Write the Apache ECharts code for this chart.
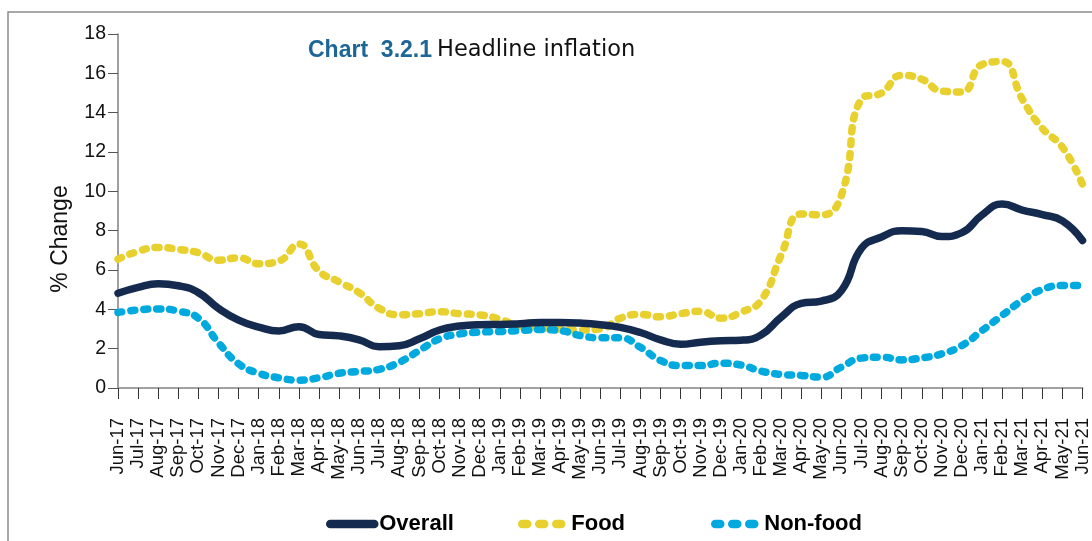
<!DOCTYPE html>
<html>
<head>
<meta charset="utf-8">
<script src="https://cdn.jsdelivr.net/npm/echarts@6/dist/echarts.min.js"></script>
<style>
html,body{margin:0;padding:0;background:#fff;}
#chart{width:1092px;height:541px;}
</style>
</head>
<body>
<div id="chart"></div>
<script>
const categories = ['Jun-17','Jul-17','Aug-17','Sep-17','Oct-17','Nov-17','Dec-17','Jan-18','Feb-18','Mar-18','Apr-18','May-18',
  'Jun-18','Jul-18','Aug-18','Sep-18','Oct-18','Nov-18','Dec-18','Jan-19','Feb-19','Mar-19','Apr-19','May-19',
  'Jun-19','Jul-19','Aug-19','Sep-19','Oct-19','Nov-19','Dec-19','Jan-20','Feb-20','Mar-20','Apr-20','May-20',
  'Jun-20','Jul-20','Aug-20','Sep-20','Oct-20','Nov-20','Dec-20','Jan-21','Feb-21','Mar-21','Apr-21','May-21','Jun-21'];

const overall = [4.82,5.12,5.3,5.2,4.85,4.05,3.45,3.1,2.9,3.12,2.72,2.65,
  2.45,2.1,2.15,2.5,2.95,3.15,3.22,3.23,3.27,3.33,3.33,3.3,
  3.22,3.08,2.82,2.45,2.22,2.33,2.4,2.43,2.7,3.6,4.3,4.42,
  4.95,7.1,7.68,8.0,7.96,7.7,7.9,8.8,9.35,9.05,8.82,8.5,7.5];

const food = [6.55,6.95,7.15,7.05,6.88,6.5,6.62,6.32,6.45,7.32,5.95,5.4,
  4.85,4.05,3.72,3.78,3.88,3.78,3.72,3.5,3.15,3.08,3.0,2.95,
  3.0,3.55,3.74,3.62,3.78,3.9,3.55,3.85,4.45,6.75,8.85,8.8,
  9.8,14.7,15.0,15.9,15.7,15.1,15.05,16.45,16.6,14.7,13.2,12.25,10.35];

const nonFood = [3.84,3.97,4.02,3.91,3.55,2.3,1.23,0.75,0.52,0.4,0.52,0.75,
  0.84,0.95,1.31,1.91,2.5,2.75,2.84,2.87,2.92,2.97,2.92,2.67,
  2.55,2.55,2.07,1.4,1.14,1.14,1.26,1.17,0.86,0.69,0.64,0.55,
  1.06,1.52,1.57,1.43,1.53,1.74,2.16,2.92,3.69,4.45,5.01,5.21,5.21];

const yTicks = {min: 0, max: 18, interval: 2};

const NAVY = '#142a4f', YELLOW = '#e8d02e', CYAN = '#00a9de';
const FONT = '"Liberation Sans", Arial, Helvetica, sans-serif';

const chart = echarts.init(document.getElementById('chart'), null, {renderer: 'canvas'});

function legendFor(name, left, ls) {
  return {
    data: [name], left: left, top: 508, orient: 'horizontal',
    itemWidth: 44, itemHeight: 8, itemGap: 10, selectedMode: false,
    textStyle: {fontFamily: FONT, fontSize: 22, fontWeight: 'bold', color: '#000'},
    lineStyle: ls
  };
}

chart.setOption({
  animation: false,
  backgroundColor: '#fff',
  title: {
    text: '{a|Chart  3.2.1} {b|Headline inflation}',
    left: 308, top: 39, padding: 0,
    textStyle: {
      fontWeight: 'normal',
      rich: {
        a: {fontFamily: FONT, fontSize: 23, fontWeight: 'bold', color: '#1d6797'},
        b: {fontFamily: '"DejaVu Sans", sans-serif', fontSize: 22.5, fontWeight: 'normal', color: '#111'}
      }
    }
  },
  legend: [
    legendFor('Overall', 321, {width: 8.5, type: 'solid', cap: 'round', color: NAVY}),
    legendFor('Food', 513, {width: 8.5, type: [5, 12], cap: 'round', color: YELLOW}),
    legendFor('Non-food', 706, {width: 8.5, type: [5, 12], cap: 'round', color: CYAN})
  ],
  grid: {left: 118, top: 34, right: 1, bottom: 153, containLabel: false},
  xAxis: {
    type: 'category', data: categories, boundaryGap: false,
    axisLine: {show: true, lineStyle: {color: '#a0a0a0', width: 2}},
    axisTick: {show: true, length: 11, interval: 0, lineStyle: {color: '#333', width: 1}},
    axisLabel: {interval: 0, rotate: 90, margin: 30, fontFamily: FONT, fontSize: 18.5, color: '#111'},
    splitLine: {show: false}
  },
  yAxis: {
    type: 'value', min: yTicks.min, max: yTicks.max, interval: yTicks.interval,
    axisLine: {show: true, lineStyle: {color: '#808080', width: 1.5}},
    axisTick: {show: true, length: 10, lineStyle: {color: '#555', width: 1}},
    axisLabel: {margin: 12, fontFamily: FONT, fontSize: 19.5, color: '#111'},
    splitLine: {show: false}
  },
  graphic: [
    {type: 'rect', shape: {x: 8, y: 12, width: 1300, height: 800},
     style: {fill: 'none', stroke: '#8c8c8c', lineWidth: 1.5}, z: 0, silent: true},
    {type: 'text', x: 61, y: 239, rotation: Math.PI / 2,
     style: {text: '% Change', fontFamily: FONT, fontSize: 23, fill: '#111', textAlign: 'center', textVerticalAlign: 'middle'}}
  ],
  series: [
    {name: 'Food', type: 'line', data: food, smooth: 0.5, symbol: 'none', z: 2,
     lineStyle: {color: YELLOW, width: 7.5, type: [4, 9], cap: 'round'}, itemStyle: {color: YELLOW}},
    {name: 'Non-food', type: 'line', data: nonFood, smooth: 0.5, symbol: 'none', z: 3,
     lineStyle: {color: CYAN, width: 7.5, type: [4, 9], cap: 'round'}, itemStyle: {color: CYAN}},
    {name: 'Overall', type: 'line', data: overall, smooth: 0.5, symbol: 'none', z: 4,
     lineStyle: {color: NAVY, width: 7.5, cap: 'round'}, itemStyle: {color: NAVY}}
  ]
});
</script>
</body>
</html>
